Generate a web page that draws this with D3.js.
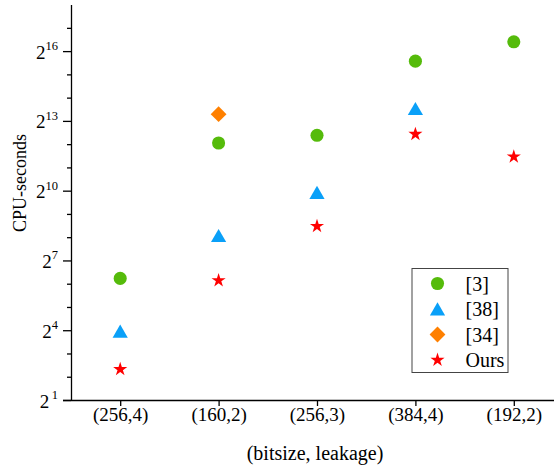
<!DOCTYPE html>
<html>
<head>
<meta charset="utf-8">
<script src="https://cdn.jsdelivr.net/npm/d3@7"></script>
<style>
  body { margin: 0; background: #fff; }
  svg { display: block; }
</style>
</head>
<body>
<svg></svg>
<script>
// data (CPU-seconds)
const categories = ["(256,4)", "(160,2)", "(256,3)", "(384,4)", "(192,2)"];
const ref3  = [75, 4240, 5330, 48600, 86500];
const ref38 = [14.6, 252, 910, 11100, null];
const ref34 = [null, 10000, null, null, null];
const ours  = [5.0, 70.5, 355, 5520, 2820];
const majorExps = [1, 4, 7, 10, 13, 16];

const series = [
  { name: "[3]",  values: ref3,  color: "#55bb0b", shape: "circle" },
  { name: "[38]", values: ref38, color: "#0aa0f8", shape: "triangle" },
  { name: "[34]", values: ref34, color: "#ff8000", shape: "diamond" },
  { name: "Ours", values: ours,  color: "#ff0000", shape: "star" }
];

const FONT = "'Liberation Serif', 'Times New Roman', serif";
const svgSize = { width: 554, height: 474 };
const plot = { left: 71, top: 4.6, bottom: 400, right: 563 };

const svg = d3.select("svg")
  .attr("width", svgSize.width)
  .attr("height", svgSize.height)
  .attr("font-family", FONT);

// scales
const x = d3.scalePoint()
  .domain(categories)
  .range([plot.left, plot.right])
  .padding(0.5);

const y = d3.scaleLog()
  .base(2)
  .domain([2, Math.pow(2, 18)])
  .range([plot.bottom, plot.top]);

// y axis
const yTicks = d3.range(1, 18).map(e => Math.pow(2, e));
const yAxis = svg.append("g")
  .attr("transform", `translate(${plot.left},0)`)
  .call(d3.axisLeft(y).tickValues(yTicks).tickFormat("").tickSizeOuter(0));
yAxis.selectAll(".tick line")
  .attr("x2", d => majorExps.includes(Math.round(Math.log2(d))) ? -8 : -4);
yAxis.selectAll("path, line").attr("stroke", "#000").attr("stroke-width", 1.3);

const yLab = svg.append("g").selectAll("text")
  .data(majorExps)
  .enter().append("text")
  .attr("x", 58)
  .attr("y", d => y(Math.pow(2, d)) + 7.5)
  .attr("text-anchor", "end")
  .style("font-family", FONT)
  .style("font-size", "19px");
yLab.append("tspan").text("2");
yLab.append("tspan").attr("dy", -8.5).style("font-size", "12.5px")
  .text(d => d === 1 ? "\u2009" + d : d);

// x axis
const xAxis = svg.append("g")
  .attr("transform", `translate(0,${plot.bottom})`)
  .call(d3.axisBottom(x).tickSize(6).tickSizeOuter(0).tickPadding(4))
  .attr("font-family", FONT);
xAxis.select(".domain").attr("d", `M${plot.left - 8},0.5H${plot.right}`);
xAxis.selectAll("path, line").attr("stroke", "#000").attr("stroke-width", 1.3);
xAxis.selectAll("text")
  .attr("y", 21).attr("dy", 0)
  .style("font-size", "19px")
  .style("font-family", FONT)
  .attr("fill", "#000");

// axis titles
svg.append("text")
  .attr("x", x(categories[2]) - 2)
  .attr("y", 460)
  .attr("text-anchor", "middle")
  .style("font-family", FONT)
  .style("font-size", "20px")
  .text("(bitsize, leakage)");

svg.append("text")
  .attr("transform", "translate(26,183) rotate(-90)")
  .attr("text-anchor", "middle")
  .style("font-family", FONT)
  .style("font-size", "18px")
  .text("CPU-seconds");

// marker shapes
function shapePath(shape) {
  if (shape === "circle") return d3.symbol(d3.symbolCircle, 135)();
  if (shape === "triangle") return d3.symbol(d3.symbolTriangle, 100)();
  if (shape === "diamond") return d3.symbol(d3.symbolSquare, 125)();
  return d3.symbol(d3.symbolStar, 62)();
}
function shapeRot(shape) { return shape === "diamond" ? " rotate(45)" : ""; }

// points
series.forEach(s => {
  svg.append("g").selectAll("path")
    .data(s.values.map((v, i) => ({ v, c: categories[i] })).filter(d => d.v != null))
    .enter().append("path")
    .attr("d", shapePath(s.shape))
    .attr("transform", d => `translate(${x(d.c)},${y(d.v)})${shapeRot(s.shape)}`)
    .attr("fill", s.color);
});

// legend
const legend = svg.append("g").attr("transform", "translate(412,268.5)");
legend.append("rect")
  .attr("width", 96).attr("height", 104)
  .attr("fill", "#fff").attr("stroke", "#444").attr("stroke-width", 1);
const li = legend.selectAll("g.item")
  .data(series)
  .enter().append("g")
  .attr("class", "item")
  .attr("transform", (d, i) => `translate(0,${15 + i * 25.5})`);
li.append("path")
  .attr("d", d => shapePath(d.shape))
  .attr("transform", d => `translate(25.5,${d.shape === "triangle" ? 2 : 0})${shapeRot(d.shape)}`)
  .attr("fill", d => d.color);
li.append("text")
  .attr("x", 53.5)
  .attr("y", 7)
  .style("font-family", FONT)
  .style("font-size", "20px")
  .text(d => d.name);
</script>
</body>
</html>
